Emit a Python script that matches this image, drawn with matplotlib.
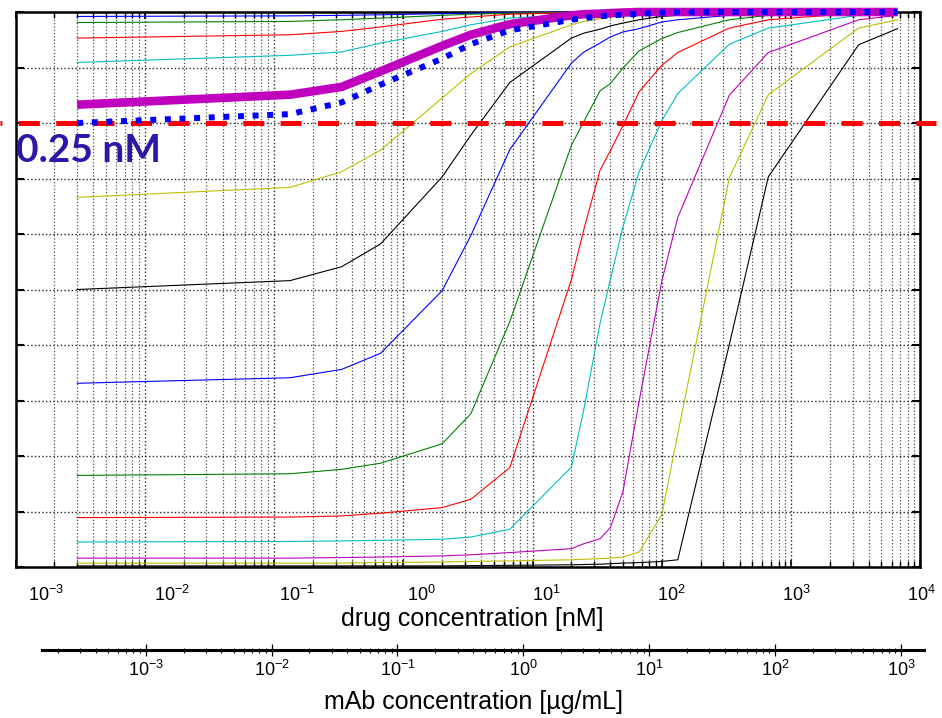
import numpy as np
import matplotlib
matplotlib.use('Agg')
import matplotlib.pyplot as plt
import matplotlib.transforms as mtransforms
from matplotlib.ticker import LogLocator, MultipleLocator, NullLocator, FixedLocator

plt.rcParams['font.family'] = ['Liberation Sans', 'DejaVu Sans']
plt.rcParams['mathtext.default'] = 'regular'

# drug concentration (nM) at which every curve was evaluated
conc_nM = [0.003, 0.133, 0.333, 0.667, 2.0, 3.33, 6.67, 20, 25, 33.3, 40, 50,
           66.7, 100, 133, 333, 667, 3333, 6667]

# curves, top (highest baseline) to bottom
c01 = [99.2, 99.3, 99.4, 99.5, 99.7, 99.8, 99.9, 100, 100, 100, 100, 100, 100, 100, 100, 100, 100, 100, 100]
c02 = [98.1, 98.3, 98.6, 98.9, 99.4, 99.6, 99.8, 99.95, 100, 100, 100, 100, 100, 100, 100, 100, 100, 100, 100]
c03 = [95.3, 95.9, 96.5, 97.3, 98.7, 99.1, 99.6, 99.9, 99.95, 100, 100, 100, 100, 100, 100, 100, 100, 100, 100]
c04 = [90.9, 92.2, 92.8, 94.4, 96.5, 97.7, 98.9, 99.5, 99.7, 99.8, 99.85, 99.9, 100, 100, 100, 100, 100, 100, 100]
c05 = [83.3, 85.1, 86.5, 89.3, 93.9, 95.9, 97.8, 99.4, 99.6, 99.7, 99.8, 99.9, 100, 100, 100, 100, 100, 100, 100]
c06 = [66.6, 68.4, 71.2, 75.1, 84.5, 88.9, 93.7, 97.7, 98.3, 98.8, 99.1, 99.3, 99.5, 99.7, 99.8, 99.95, 100, 100, 100]
c07 = [50.0, 51.6, 54.1, 58.2, 70.3, 77.8, 87.3, 95.3, 96.2, 96.9, 97.5, 98.0, 98.6, 99.2, 99.4, 99.8, 99.9, 100, 100]
c08 = [33.1, 34.1, 35.6, 38.5, 49.8, 59.7, 75.2, 90.8, 92.8, 94.4, 95.5, 96.4, 97.0, 98.2, 98.6, 99.4, 99.7, 100, 100]
c09 = [16.5, 16.8, 17.6, 18.7, 22.2, 27.6, 44.2, 76.0, 80.3, 85.8, 87.1, 89.9, 93.0, 95.2, 96.3, 98.6, 99.4, 100, 100]
c10 = [8.9, 9.0, 9.2, 9.7, 10.7, 12.2, 17.9, 51.8, 60.9, 71.5, 75.0, 79.5, 85.6, 90.4, 92.7, 97.1, 98.6, 99.8, 100]
c11 = [4.5, 4.6, 4.7, 4.8, 5.0, 5.4, 6.8, 18.0, 28.5, 43.9, 51.8, 61.2, 71.2, 80.4, 85.3, 94.2, 97.1, 99.4, 99.7]
c12 = [1.6, 1.6, 1.7, 1.8, 2.0, 2.2, 2.6, 3.3, 4.2, 5.1, 7.1, 13.5, 29.8, 51.5, 63.0, 85.0, 92.7, 98.6, 99.4]
c13 = [0.7, 0.7, 0.7, 0.8, 0.9, 1.0, 1.1, 1.3, 1.4, 1.5, 1.6, 1.8, 2.7, 9.4, 24.0, 70.1, 85.1, 97.1, 98.6]
c14 = [0.2, 0.2, 0.2, 0.2, 0.2, 0.25, 0.3, 0.4, 0.45, 0.5, 0.6, 0.7, 0.8, 1.0, 1.3, 40.1, 70.3, 94.1, 97.0]
curves = [c01, c02, c03, c04, c05, c06, c07, c08, c09, c10, c11, c12, c13, c14]
colors = ['b', 'g', 'r', 'c', 'm', 'y', 'k'] * 2
highlight = 4  # the thick magenta one

# 0.25 nM curve (dotted)
c_025 = [80.0, 81.6, 83.7, 86.9, 91.6, 94.2, 96.7, 98.6, 98.9, 99.2, 99.4, 99.5, 99.7, 99.9, 99.95, 100, 100, 100, 100]
threshold = 80

drug_decades = 10.0 ** np.arange(-3, 5)
mab_decades = 10.0 ** np.arange(-3, 4)

W, H = 942, 718
fig = plt.figure(figsize=(W / 100, H / 100), dpi=100)
ax = fig.add_axes([15.5 / W, 1 - 567 / H, 904.8 / W, 555 / H])

for i, (vals, col) in enumerate(zip(curves, colors)):
    if i == highlight:
        continue
    ax.plot(conc_nM, vals, color=col, lw=0.8, clip_on=False, zorder=3)
ax.plot(conc_nM, curves[highlight], color='m', lw=6.2, clip_on=False, zorder=4,
        solid_capstyle='butt')

trans = mtransforms.blended_transform_factory(fig.transFigure, ax.transData)
ax.plot([0, 936 / W], [threshold, threshold], transform=trans, color='r', lw=3.6,
        ls=(3.82, (4.2, 3.28)), dash_capstyle='butt', clip_on=False, zorder=5)
ax.plot(conc_nM, c_025, color='b', lw=4.3, ls=(0, (1, 1.45)), dash_capstyle='butt',
        clip_on=False, zorder=6)

ax.text(0.0, (567 - 162) / 555, '0.25 nM', transform=ax.transAxes, ha='left',
        va='baseline', fontsize=28, fontweight='bold', color='#2B17A8',
        family=['Lato', 'DejaVu Sans'], zorder=7)

ax.set_xscale('log')
ax.set_xlim(1e-3, 1e4)
ax.set_ylim(0, 100)
ax.xaxis.set_major_locator(FixedLocator(drug_decades))
ax.xaxis.set_minor_locator(LogLocator(base=10, subs=np.arange(2, 10), numticks=20))
ax.yaxis.set_major_locator(MultipleLocator(10))
ax.grid(True, which='major', ls=':', color='0.15', lw=1.0)
ax.grid(True, which='minor', axis='x', ls=':', color='0.3', lw=0.9)
ax.tick_params(axis='both', which='both', direction='in', top=True, right=True,
               labelbottom=False, labelleft=False)
ax.tick_params(axis='y', length=6, width=1.5)
ax.tick_params(axis='x', which='major', length=5, width=1.2)
ax.tick_params(axis='x', which='minor', length=4, width=1)
for s in ax.spines.values():
    s.set_linewidth(1.8)
ax.set_xlabel('drug concentration [nM]', fontsize=18, va='top')
ax.xaxis.set_label_coords(472.5 / W, 1 - 607 / H, transform=fig.transFigure)

# tick labels of the drug axis
ax_lab = fig.add_axes([46.5 / W, 1 - 567 / H, 875 / W, 0.0001])
ax_lab.set_xscale('log')
ax_lab.set_xlim(1e-3, 1e4)
ax_lab.patch.set_visible(False)
for s in ax_lab.spines.values():
    s.set_visible(False)
ax_lab.set_yticks([])
ax_lab.xaxis.set_major_locator(FixedLocator(drug_decades))
ax_lab.xaxis.set_minor_locator(NullLocator())
ax_lab.tick_params(axis='x', length=0, pad=13, labelsize=13)

# mAb concentration axis
ax2 = fig.add_axes([41.7 / W, 1 - 649.7 / H, 882.3 / W, 0.0001])
ax2.set_xscale('log')
ax2.set_xlim(10 ** -3.826, 10 ** 3.182)
ax2.patch.set_visible(False)
for k in ['top', 'left', 'right']:
    ax2.spines[k].set_visible(False)
ax2.spines['bottom'].set_linewidth(2.2)
ax2.set_yticks([])
ax2.xaxis.set_major_locator(FixedLocator(mab_decades))
ax2.xaxis.set_minor_locator(LogLocator(base=10, subs=np.arange(2, 10), numticks=20))
ax2.tick_params(axis='x', which='major', direction='inout', length=8.6, width=0.9,
                pad=3, labelsize=13)
ax2.tick_params(axis='x', which='minor', direction='inout', length=3.6, width=0.8)
ax2.set_xlabel('mAb concentration [µg/mL]', fontsize=18, va='top')
ax2.xaxis.set_label_coords(473 / W, 1 - 690 / H, transform=fig.transFigure)

fig.savefig('out.png', dpi=100)
